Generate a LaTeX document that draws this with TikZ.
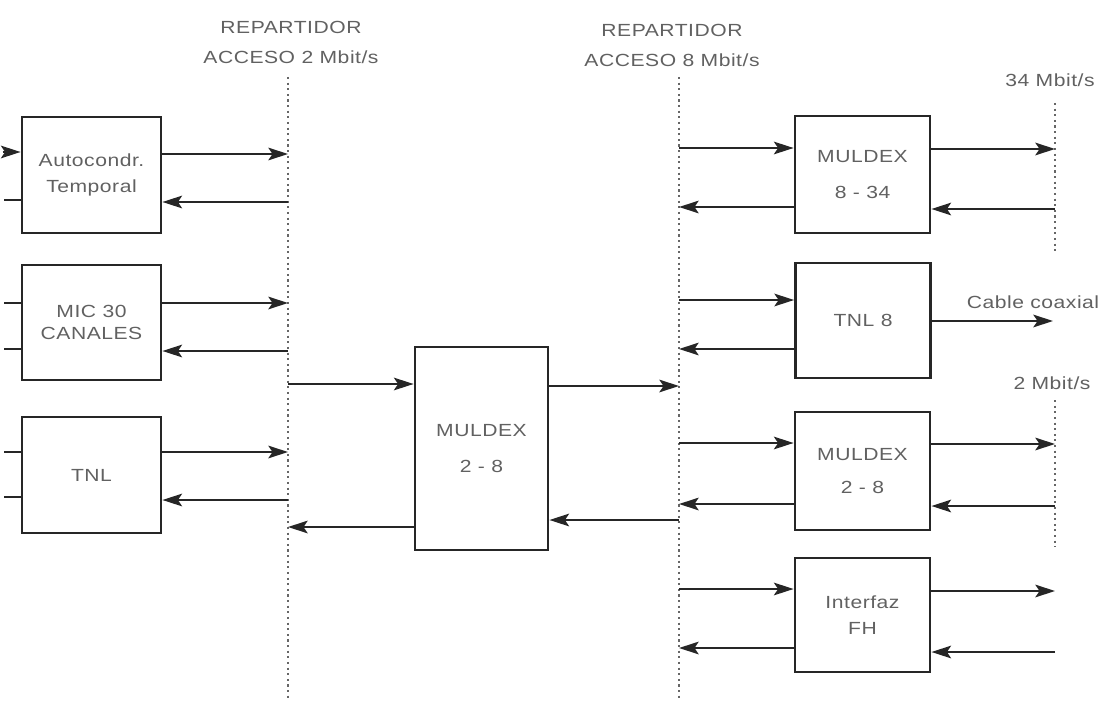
\documentclass[tikz,border=0pt]{standalone}
\usepackage{fontspec}
\setmainfont{Liberation Sans}[FakeStretch=1.2,LetterSpace=3]
\usetikzlibrary{arrows.meta,calc}

\begin{document}
\begin{tikzpicture}[
    x=0.025cm, y=-0.025cm,
    every node/.style={font=\fontsize{12.5}{15}\selectfont, text=black!62},
    block/.style={rectangle, draw=black!85, line width=2pt, inner sep=0pt, align=center},
    leftblock/.style={block, minimum width=3.475cm, minimum height=2.9cm},
    rightblock/.style={block, minimum width=3.375cm, minimum height=2.9cm},
    arrow/.style={draw=black!85, line width=1.3pt, -{Stealth[length=14pt,width=9pt,inset=3pt]}},
    stub/.style={draw=black!85, line width=1.3pt},
    repart/.style={draw=black!60, line width=0.9pt, dash pattern=on 1.5pt off 2.5pt}
]
\useasboundingbox (0,0) rectangle (1102,702);

% Repartidores
\coordinate (rA) at (288,77);
\coordinate (rAend) at (288,700);
\coordinate (rB) at (679,77);
\coordinate (rBend) at (679,700);
\coordinate (r34) at (1055,103);
\coordinate (r34end) at (1055,253);
\coordinate (r2) at (1055,400);
\coordinate (r2end) at (1055,547);
\coordinate (coax) at (1053,321);
\coordinate (fhend) at (1055,591);
\draw[repart] (rA) -- (rAend);
\draw[repart] (rB) -- (rBend);
\draw[repart] (r34) -- (r34end);
\draw[repart] (r2) -- (r2end);

% Labels
\node (repA1) at (291,27) {REPARTIDOR};
\node (repA2) at (291,57) {ACCESO 2 Mbit/s};
\node (repB1) at (672,30) {REPARTIDOR};
\node (repB2) at (672,60) {ACCESO 8 Mbit/s};
\node (lab34) at (1050,80) {34 Mbit/s};
\node (labcoax) at (1033,302) {Cable coaxial};
\node (lab2) at (1052,383) {2 Mbit/s};

% Equipos 2 Mbit/s
\node[leftblock] (autocond) at (91.5,175) {Autocondr.\\[4pt] Temporal};
\node[leftblock, minimum height=2.875cm] (mic) at (91.5,322.5) {MIC 30\\[1pt] CANALES};
\node[leftblock] (tnl) at (91.5,475) {TNL};

% Muldex central
\node[block, minimum width=3.325cm, minimum height=5.075cm] (muldexA) at (481.5,448.5) {MULDEX\\[11pt] 2 - 8};

% Equipos 8 Mbit/s
\node[rightblock, minimum height=2.925cm] (muldexB) at (862.5,174.5) {MULDEX\\[10pt] 8 - 34};
\node[rightblock, minimum height=2.875cm] (tnlB) at (863,320.5) {TNL 8};
\node[rightblock, minimum height=2.95cm] (muldexC) at (862.5,471) {MULDEX\\[9pt] 2 - 8};
\node[rightblock, minimum height=2.85cm] (interfaz) at (862.5,615) {Interfaz\\[3pt] FH};

% Entradas por la izquierda
\draw[arrow] (autocond.west |- 0,152) ++(-18,0) -- (autocond.west |- 0,152);
\draw[stub] (autocond.west |- 0,200) -- ++(-17,0);
\draw[stub] (mic.west |- 0,303) -- ++(-17,0);
\draw[stub] (mic.west |- 0,349) -- ++(-17,0);
\draw[stub] (tnl.west |- 0,452) -- ++(-17,0);
\draw[stub] (tnl.west |- 0,497) -- ++(-17,0);

% Conexiones al repartidor 2 Mbit/s
\draw[arrow] (autocond.east |- 0,154) -- (rA |- 0,154);
\draw[arrow] (rA |- 0,202) -- (autocond.east |- 0,202);
\draw[arrow] (mic.east |- 0,303) -- (rA |- 0,303);
\draw[arrow] (rA |- 0,351) -- (mic.east |- 0,351);
\draw[arrow] (tnl.east |- 0,452) -- (rA |- 0,452);
\draw[arrow] (rA |- 0,500) -- (tnl.east |- 0,500);

% Muldex 2-8
\draw[arrow] (rA |- 0,384) -- (muldexA.west |- 0,384);
\draw[arrow] (muldexA.east |- 0,386) -- (rB |- 0,386);
\draw[arrow] (rB |- 0,520) -- (muldexA.east |- 0,520);
\draw[arrow] (muldexA.west |- 0,527) -- (rA |- 0,527);

% Conexiones al repartidor 8 Mbit/s
\draw[arrow] (rB |- 0,148) -- (muldexB.west |- 0,148);
\draw[arrow] (muldexB.west |- 0,207) -- (rB |- 0,207);
\draw[arrow] (rB |- 0,300) -- (tnlB.west |- 0,300);
\draw[arrow] (tnlB.west |- 0,349) -- (rB |- 0,349);
\draw[arrow] (rB |- 0,443) -- (muldexC.west |- 0,443);
\draw[arrow] (muldexC.west |- 0,504) -- (rB |- 0,504);
\draw[arrow] (rB |- 0,589) -- (interfaz.west |- 0,589);
\draw[arrow] (interfaz.west |- 0,648) -- (rB |- 0,648);

% Salidas
\draw[arrow] (muldexB.east |- 0,149) -- (r34 |- 0,149);
\draw[arrow] (r34 |- 0,209) -- (muldexB.east |- 0,209);
\draw[arrow] (tnlB.east |- coax) -- (coax);
\draw[arrow] (muldexC.east |- 0,444) -- (r2 |- 0,444);
\draw[arrow] (r2 |- 0,506) -- (muldexC.east |- 0,506);
\draw[arrow] (interfaz.east |- fhend) -- (fhend);
\draw[arrow] (fhend |- 0,652) -- (interfaz.east |- 0,652);

\end{tikzpicture}
\end{document}
